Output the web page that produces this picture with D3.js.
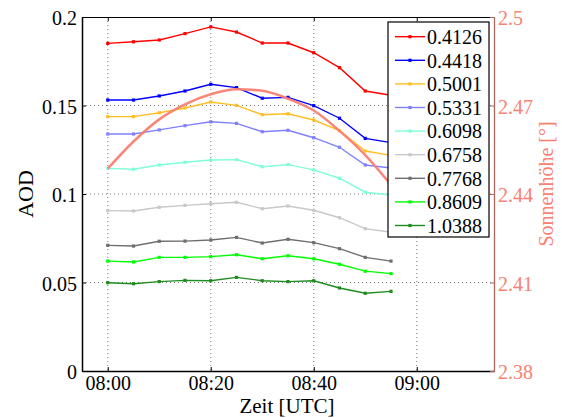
<!DOCTYPE html>
<html>
<head>
<meta charset="utf-8">
<script src="https://cdn.jsdelivr.net/npm/d3@7"></script>
<style>
  html, body { margin: 0; padding: 0; background: #fff; }
  svg { display: block; }
  text { font-family: "Liberation Serif", "Times New Roman", serif; }
</style>
</head>
<body>
<svg id="chart" width="562" height="418"></svg>
<script>
// ---------- data ----------
const times = ["08:00","08:05","08:10","08:15","08:20","08:25","08:30","08:35","08:40","08:45","08:50","08:55"];
const wavelengths = ["0.4126","0.4418","0.5001","0.5331","0.6098","0.6758","0.7768","0.8609","1.0388"];
const seriesColors = ["#ff0000","#0000ff","#ffbf22","#8080ff","#7fffd9","#c8c8c8","#6e6e6e","#00ff00","#1f8c1f"];

const aod0412 = [0.1851,0.1860,0.1870,0.1906,0.1944,0.1915,0.1853,0.1853,0.1798,0.1714,0.1582,0.1558];
const aod0442 = [0.1531,0.1531,0.1554,0.1582,0.1620,0.1601,0.1541,0.1546,0.1499,0.1428,0.1314,0.1290];
const aod0500 = [0.1437,0.1437,0.1459,0.1486,0.1520,0.1501,0.1448,0.1453,0.1418,0.1358,0.1243,0.1218];
const aod0533 = [0.1339,0.1339,0.1362,0.1386,0.1408,0.1399,0.1352,0.1360,0.1318,0.1264,0.1164,0.1147];
const aod0610 = [0.1145,0.1140,0.1164,0.1179,0.1192,0.1194,0.1154,0.1166,0.1136,0.1089,0.1010,0.0994];
const aod0676 = [0.0906,0.0904,0.0925,0.0936,0.0945,0.0953,0.0917,0.0932,0.0908,0.0866,0.0804,0.0784];
const aod0777 = [0.0710,0.0706,0.0733,0.0734,0.0740,0.0755,0.0723,0.0744,0.0725,0.0691,0.0642,0.0621];
const aod0861 = [0.0621,0.0616,0.0642,0.0642,0.0646,0.0657,0.0634,0.0651,0.0634,0.0603,0.0564,0.0550];
const aod1039 = [0.0499,0.0493,0.0505,0.0512,0.0510,0.0529,0.0510,0.0505,0.0510,0.0469,0.0439,0.0450];

const sunElevation = [2.4486,2.4578,2.4653,2.4704,2.4738,2.4755,2.4750,2.4723,2.4683,2.4614,2.4532,2.4431];

const xTickLabels = ["08:00","08:20","08:40","09:00"];
const xDomain = ["07:55","09:15"];
const yTicks = [0,0.05,0.1,0.15,0.2];
const y2Ticks = [2.38,2.41,2.44,2.47,2.5];

// ---------- setup ----------
const parse = d3.timeParse("%H:%M");
const fmtTime = d3.timeFormat("%H:%M");
const allSeries = [aod0412,aod0442,aod0500,aod0533,aod0610,aod0676,aod0777,aod0861,aod1039];

const W = 562, H = 418;
const m = {left: 82, right: 68, top: 17, bottom: 47};
const iw = W - m.left - m.right, ih = H - m.top - m.bottom;

const svg = d3.select("#chart");
const g = svg.append("g").attr("transform", `translate(${m.left},${m.top})`);

const x = d3.scaleTime().domain(xDomain.map(parse)).range([0, iw]);
const y = d3.scaleLinear().domain([0, 0.2]).range([ih, 0]);
const y2 = d3.scaleLinear().domain([2.38, 2.5]).range([ih, 0]);

const salmon = "#fa8072";
const rightAxisColor = "#b0665a";

// ---------- grid ----------
const xTickDates = xTickLabels.map(parse);
g.append("g").selectAll("line").data(xTickDates).join("line")
  .attr("x1", d => x(d)).attr("x2", d => x(d))
  .attr("y1", 0).attr("y2", ih)
  .attr("stroke", "#555").attr("stroke-width", 0.8).attr("stroke-dasharray", "1,3");
g.append("g").selectAll("line").data(yTicks.slice(1, -1)).join("line")
  .attr("x1", 0).attr("x2", iw)
  .attr("y1", d => y(d)).attr("y2", d => y(d))
  .attr("stroke", "#555").attr("stroke-width", 0.8).attr("stroke-dasharray", "1,3");

// ---------- AOD series ----------
const line = d3.line().x((d, i) => x(parse(times[i]))).y(d => y(d));
allSeries.forEach((s, k) => {
  const sg = g.append("g");
  sg.append("path").datum(s).attr("d", line)
    .attr("fill", "none").attr("stroke", seriesColors[k]).attr("stroke-width", 1.4);
  sg.selectAll("rect").data(s).join("rect")
    .attr("x", (d, i) => x(parse(times[i])) - 1.6)
    .attr("y", d => y(d) - 1.6)
    .attr("width", 3.2).attr("height", 3.2)
    .attr("fill", seriesColors[k]);
});

// ---------- sun elevation ----------
const line2 = d3.line().curve(d3.curveMonotoneX)
  .x((d, i) => x(parse(times[i]))).y(d => y2(d));
g.append("path").datum(sunElevation).attr("d", line2)
  .attr("fill", "none").attr("stroke", salmon).attr("stroke-width", 2.5).attr("stroke-opacity", 0.95);

// ---------- axes ----------
const tickLen = 4;
// left axis
const yAxis = d3.axisLeft(y).tickValues(yTicks).tickFormat(d => d3.format("")(d))
  .tickSizeInner(-tickLen).tickSizeOuter(0).tickPadding(5);
const ya = g.append("g").call(yAxis);
ya.select(".domain").attr("stroke", "#000").attr("stroke-width", 1.5);
ya.selectAll(".tick line").attr("stroke", "#000");
ya.selectAll(".tick text").attr("font-size", 20).attr("fill", "#000").attr("dy", "0.38em");

// bottom axis
const xAxis = d3.axisBottom(x).tickValues(xTickDates).tickFormat(fmtTime)
  .tickSizeInner(-tickLen).tickSizeOuter(0).tickPadding(4.5);
const xa = g.append("g").attr("transform", `translate(0,${ih})`).call(xAxis);
xa.select(".domain").attr("stroke", "#000").attr("stroke-width", 1.5);
xa.selectAll(".tick line").attr("stroke", "#000");
xa.selectAll(".tick text").attr("font-size", 20).attr("fill", "#000").attr("dy", "0.71em");

// top axis (box)
const xTop = d3.axisTop(x).tickValues(xTickDates).tickFormat("")
  .tickSizeInner(-tickLen).tickSizeOuter(0);
const xt = g.append("g").call(xTop);
xt.select(".domain").attr("stroke", "#000").attr("stroke-width", 1);
xt.selectAll(".tick line").attr("stroke", "#000");

// right axis
const y2Axis = d3.axisRight(y2).tickValues(y2Ticks).tickFormat(d => d3.format("")(d))
  .tickSizeInner(-tickLen).tickSizeOuter(0).tickPadding(4);
const ra = g.append("g").attr("transform", `translate(${iw},0)`).call(y2Axis);
ra.select(".domain").attr("stroke", rightAxisColor).attr("stroke-width", 1.3);
ra.selectAll(".tick line").attr("stroke", rightAxisColor);
ra.selectAll(".tick text").attr("font-size", 20).attr("fill", salmon).attr("dy", "0.38em");

// axis labels
svg.append("text").attr("x", m.left + iw / 2 - 1).attr("y", 413.2)
  .attr("text-anchor", "middle").attr("font-size", 21).attr("fill", "#000")
  .text("Zeit [UTC]");
svg.append("text").attr("transform", `translate(33,${m.top + ih / 2}) rotate(-90)`)
  .attr("text-anchor", "middle").attr("font-size", 22).attr("fill", "#000")
  .text("AOD");
svg.append("text").attr("transform", `translate(553,${m.top + ih / 2 - 10}) rotate(-90)`)
  .attr("text-anchor", "middle").attr("font-size", 20).attr("fill", salmon)
  .text("Sonnenhöhe [°]");

// ---------- legend ----------
const lg = svg.append("g").attr("transform", "translate(388,22)");
lg.append("rect").attr("x", 0).attr("y", 0).attr("width", 101).attr("height", 215)
  .attr("fill", "#fff").attr("stroke", "#000").attr("stroke-width", 1.2);
const rowH = 23.6;
const rows = lg.selectAll("g.row").data(wavelengths).join("g")
  .attr("class", "row")
  .attr("transform", (d, i) => `translate(0,${14.7 + i * rowH})`);
rows.append("line").attr("x1", 7).attr("x2", 37).attr("y1", 0).attr("y2", 0)
  .attr("stroke", (d, i) => seriesColors[i]).attr("stroke-width", 1.4);
rows.append("rect").attr("x", 20.4).attr("y", -1.6).attr("width", 3.2).attr("height", 3.2)
  .attr("fill", (d, i) => seriesColors[i]);
rows.append("text").attr("x", 39).attr("y", 0).attr("dy", "0.36em")
  .attr("font-size", 20).attr("fill", "#000").text(d => d);
</script>
</body>
</html>
